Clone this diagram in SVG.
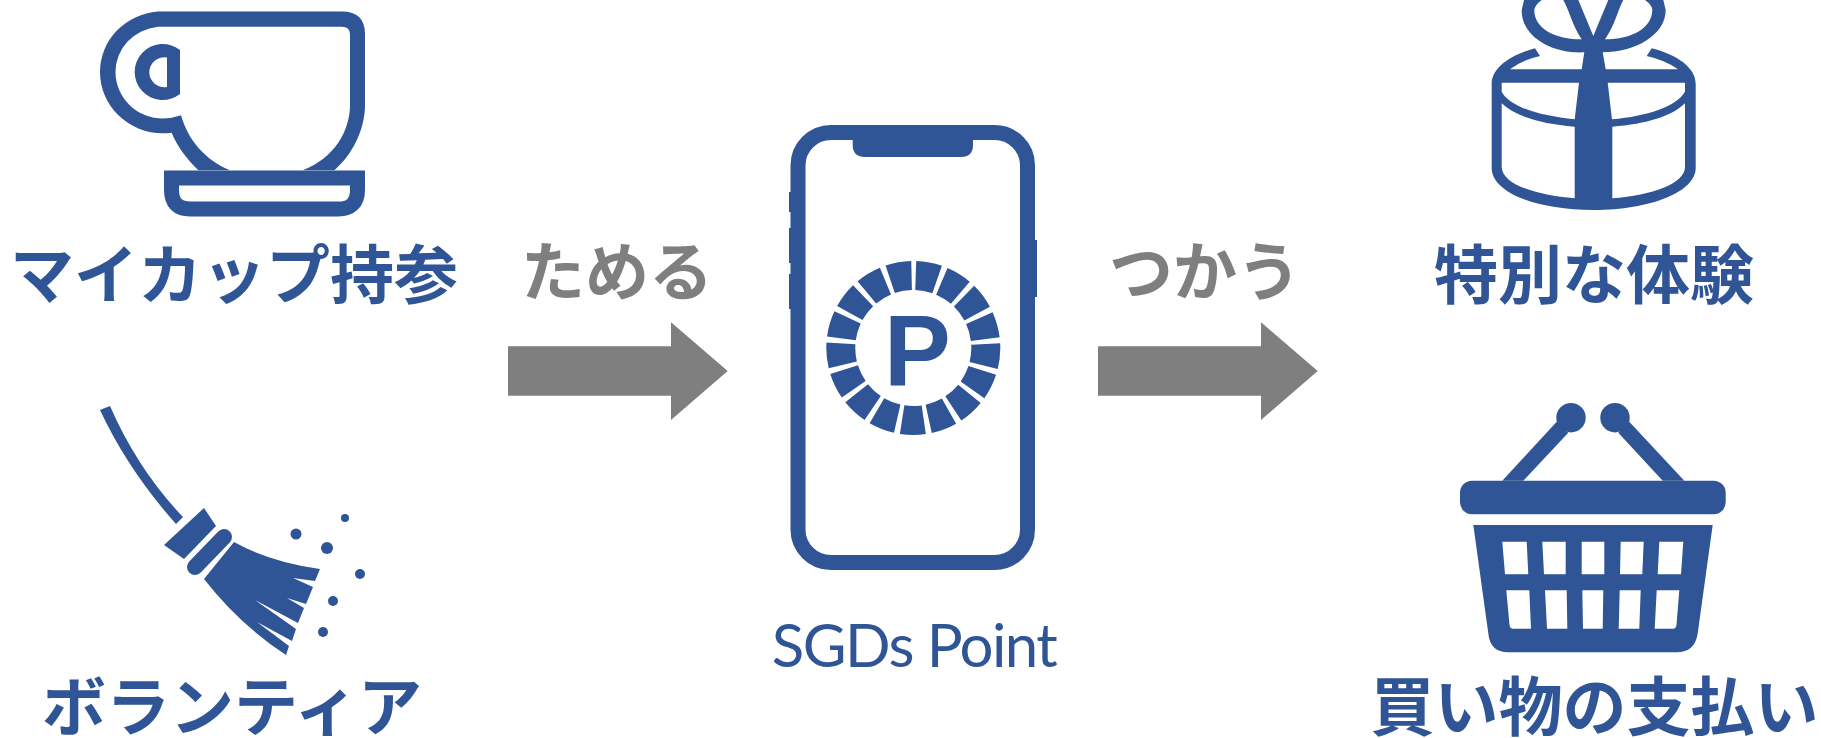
<svg xmlns="http://www.w3.org/2000/svg" width="1821" height="738" viewBox="0 0 1821 738">
<style>
.ink{fill:#2f5597}
.line{fill:none;stroke:#2f5597;stroke-width:15}
.t{font-family:"Noto Sans CJK JP","Noto Sans",sans-serif;font-size:64px;font-weight:700;text-anchor:middle}
.b{fill:#2f5597}
.g{fill:#7f7f7f}
.arrow{fill:#7f7f7f}
</style>
<rect width="1821" height="738" fill="#fff"/>
<g id="node-mycup">
<path class="ink" fill-rule="evenodd" d="M171.700 132.700Q167 133.300 163 133.300A63 61.300 0 0 1 100 72A63 60.500 0 0 1 158 11.500H342Q365 11.500 365 34V105C365 130 352 155 334.300 170.300H198.300C186 158 177 146 171.700 132.700Z
M181 115.300Q172 118.500 163 118.500A47.500 46.500 0 0 1 115.500 72A47.700 45.300 0 0 1 158 26.700H342Q350 26.700 350 34.500V105C350 130 335 158 302.700 170.300H230C205 160 188 140 181 115.300Z"/>
<path class="line" d="M171.500 178H357.500V190Q357.500 209 338 209H190Q171.500 209 171.500 190Z"/>
<path class="ink" fill-rule="evenodd" d="M180 50A28 28 0 1 0 180 94ZM167 57.500A15 15 0 1 0 167 87Z"/>
<text class="t b" x="234" y="298">マイカップ持参</text>
</g>
<g id="node-volunteer">
<path class="ink" d="M100 410L110 406Q138 470 183 517L176 524Q128 470 100 410Z"/>
<path class="ink" d="M204 508L216 526L184 559L164 545Z"/>
<line x1="224" y1="537" x2="195" y2="567" stroke="#2f5597" stroke-width="16" stroke-linecap="round"/>
<path class="ink" d="M234 542Q270 562 320 569L315 581L293 578L313 587L306 604L287 598L304 608L298 623L255 600L296 629L292 641L257 622L289 646L286 655Q240 625 204 579Z"/>
<circle class="ink" cx="345" cy="518" r="4"/>
<circle class="ink" cx="296" cy="534" r="5.500"/>
<circle class="ink" cx="327" cy="548" r="6"/>
<circle class="ink" cx="360" cy="574" r="5"/>
<circle class="ink" cx="333" cy="601" r="5"/>
<circle class="ink" cx="323" cy="632" r="5"/>
<text class="t b" x="232" y="730">ボランティア</text>
</g>
<g id="node-phone">
<rect class="line" x="798" y="132.500" width="229.500" height="430" rx="33"/>
<path class="ink" d="M852.700 135H973V145Q973 157 961 157H865Q852.700 157 852.700 145Z"/>
<rect class="ink" x="789" y="192" width="6" height="20"/>
<rect class="ink" x="789" y="228" width="6" height="35"/>
<rect class="ink" x="789" y="274" width="6" height="35"/>
<rect class="ink" x="1031" y="240" width="6" height="57"/>
<circle cx="913.300" cy="348" r="72.500" fill="none" stroke="#2f5597" stroke-width="29" stroke-dasharray="21.800 4.996" stroke-dashoffset="-2.500" transform="rotate(-90 913.300 348)"/>
<text x="884" y="385" font-family="'Liberation Sans',sans-serif" font-weight="700" font-size="100" fill="#2f5597">P</text>
<text x="914" y="667" font-family="Lato,sans-serif" font-weight="400" font-size="60" letter-spacing="-1.600" fill="#2f5597" text-anchor="middle">SGDs Point</text>
</g>
<g id="node-gift">
<path class="ink" fill-rule="evenodd" d="M1535 48.300L1540 56Q1522 60 1510 69.300H1581.700L1584.300 52.300C1550 54 1521 35 1521.700 10L1524 0H1578.300L1593.300 36L1608.300 0H1663.300L1665.700 10C1665.700 35 1635 52.300 1602.700 52.300L1605.700 69.300H1678Q1665 60 1646.700 56L1651.700 48.300C1678 55 1695.700 68 1695.700 84V168C1695.700 192 1650 210 1593.700 210C1535 210 1491.700 192 1491.700 168V84C1491.700 68 1510 55 1535 48.300Z
M1541.700 0H1563.300C1570 12 1572 25 1581.700 39.300C1555 39.300 1534 28 1534.300 10Q1535 5 1541.700 0Z
M1623.300 0H1645Q1652 5 1652.300 10C1652 28 1632 39.300 1605 39.300C1615 25 1617 12 1623.300 0Z
M1501.700 82.700H1579L1574.700 119.300C1540 116 1510 107 1501.700 91.700Z
M1607.700 82.700H1685V91.700C1676 107 1647 116 1612 119.300Z
M1501.700 103.300C1515 116 1540 124 1574.700 126.700V198.300C1535 195 1501.700 184 1501.700 166.700Z
M1612.300 126.700C1647 124 1672 116 1685 103.300V166.700C1685 184 1652 195 1612.300 198.300Z"/>
<text class="t b" x="1594" y="298">特別な体験</text>
</g>
<g id="node-basket">
<circle class="ink" cx="1571" cy="417.700" r="14.700"/>
<circle class="ink" cx="1615" cy="417.700" r="14.700"/>
<path class="ink" d="M1556.700 421.700L1502.300 480.700H1523.300L1568.300 432.700Z"/>
<path class="ink" d="M1629.300 421.700L1684.300 480.700H1662.700L1618.300 432.700Z"/>
<rect class="ink" x="1460" y="480.700" width="265.700" height="33.600" rx="12"/>
<path class="ink" fill-rule="evenodd" d="M1473.300 525H1712.700L1697.700 633.300Q1695 652.300 1676.700 652.300H1508.300Q1490 652.300 1488.300 633.300Z
M1502.300 541.700H1526.700L1528.300 574.300H1505Z
M1542.300 541.700H1565.700V574.300H1544Z
M1581.700 541.700H1604.300V574.300H1581.700Z
M1620.700 541.700H1643.700L1642.300 574.300H1620Z
M1659.300 541.700H1683.300L1681 574.300H1657.700Z
M1506.300 590.300H1529.300L1531 628.700H1513Q1510 628.700 1509.500 625Z
M1545 590.300H1566.700L1567.300 628.700H1547Z
M1582.300 590.300H1603.300L1602.700 628.700H1583Z
M1619.700 590.300H1640.700L1639.300 628.700H1618.700Z
M1656.700 590.300H1679.300L1676.500 625Q1676 628.700 1673 628.700H1654.700Z"/>
<text class="t b" x="1594.500" y="730">買い物の支払い</text>
</g>
<g id="connectors">
<path class="arrow" d="M508 346.300H671V322.300L727.700 371L671 420V395.700H508Z"/>
<text class="t g" x="617" y="295">ためる</text>
<path class="arrow" d="M1098 346.300H1261V322.300L1317.700 371L1261 420V395.700H1098Z"/>
<text class="t g" x="1205" y="295">つかう</text>
</g>
</svg>
